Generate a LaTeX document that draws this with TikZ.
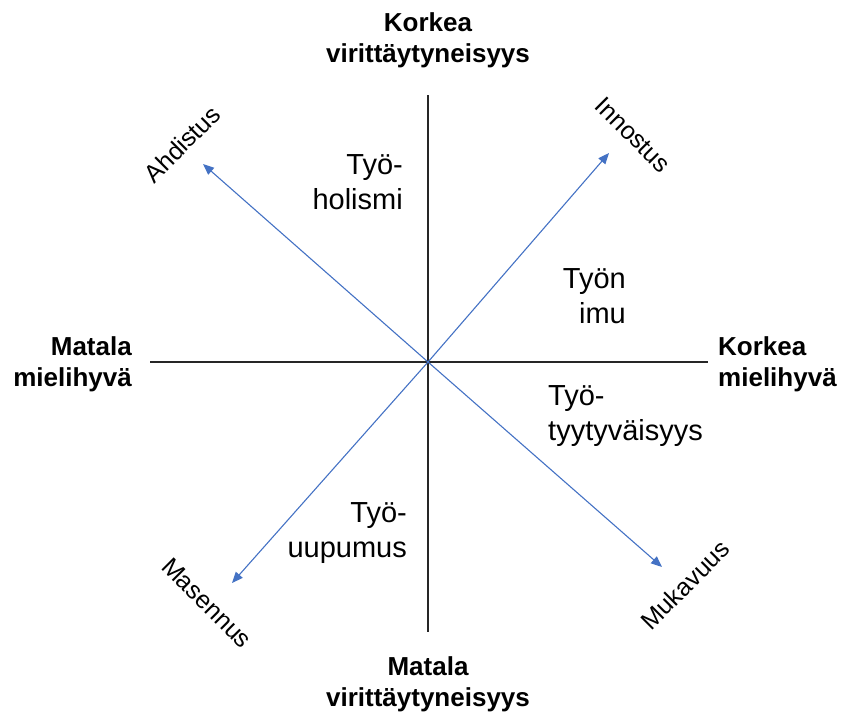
\documentclass[tikz,border=0pt]{standalone}
\usepackage{fontspec}
\setmainfont{Liberation Sans}
\usetikzlibrary{arrows.meta}
\definecolor{arrowblue}{HTML}{4472C4}
\begin{document}
\begin{tikzpicture}[x=1pt,y=-1pt,
  axis/.style={draw=black!85, line width=1.2pt},
  dirarrow/.style={draw=arrowblue, line width=1.1pt, -{Triangle[length=11pt,width=9pt]}},
  polelabel/.style={font=\fontsize{26}{31}\selectfont\bfseries, inner sep=0pt},
  zonelabel/.style={font=\fontsize{29}{35}\selectfont, inner sep=0pt},
  cornerlabel/.style={font=\fontsize{25}{30}\selectfont, inner sep=0pt}]
\useasboundingbox (0,0) rectangle (842,715);

% axes
\coordinate (c) at (428,362);
\coordinate (ytop) at (428,95);
\coordinate (ybot) at (428,632);
\coordinate (xleft) at (150,362);
\coordinate (xright) at (708,362);
\draw[axis] (ytop) -- (ybot);
\draw[axis] (xleft) -- (xright);

% diagonal directions
\coordinate (tipNW) at (203,164);
\coordinate (tipNE) at (609,153);
\coordinate (tipSW) at (232,583);
\coordinate (tipSE) at (662,567);
\draw[dirarrow] (c) -- (tipNW);
\draw[dirarrow] (c) -- (tipNE);
\draw[dirarrow] (c) -- (tipSW);
\draw[dirarrow] (c) -- (tipSE);

% pole labels
\node[polelabel, align=center] (top) at (428,40) {Korkea\\virittäytyneisyys};
\node[polelabel, align=center] (bottom) at (428,684) {Matala\\virittäytyneisyys};
\node[polelabel, align=right, anchor=east] (left) at (132,364) {Matala\\mielihyvä};
\node[polelabel, align=left, anchor=west] (right) at (718,364) {Korkea\\mielihyvä};

% zone labels
\node[zonelabel, align=right, anchor=east] (holismi) at (403,182) {Työ-\\holismi};
\node[zonelabel, align=right, anchor=east] (imu) at (626,296) {Työn\\imu};
\node[zonelabel, align=left, anchor=west] (tyytyvaisyys) at (548,416) {Työ-\\tyytyväisyys};
\node[zonelabel, align=right, anchor=east] (uupumus) at (407,533) {Työ-\\uupumus};

% corner labels
\node[cornerlabel, rotate=45] (ahdistus) at (182,144) {Ahdistus};
\node[cornerlabel, rotate=-45] (innostus) at (633,135) {Innostus};
\node[cornerlabel, rotate=-45] (masennus) at (207,603) {Masennus};
\node[cornerlabel, rotate=45] (mukavuus) at (685,585) {Mukavuus};
\end{tikzpicture}
\end{document}
